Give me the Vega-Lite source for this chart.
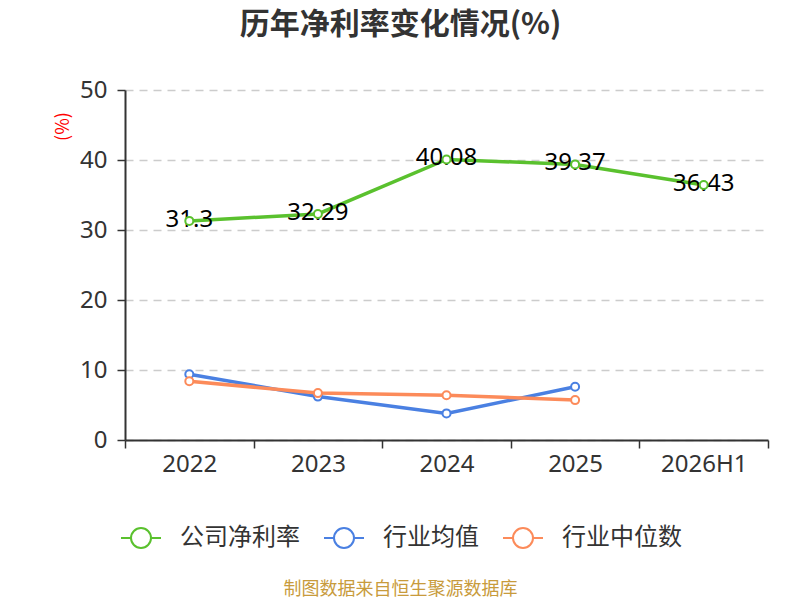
{
  "$schema": "https://vega.github.io/schema/vega-lite/v6.json",
  "width": 643,
  "height": 350,
  "autosize": "none",
  "padding": {"left": 125, "top": 90, "right": 32, "bottom": 160},
  "background": "white",
  "title": {
    "text": "历年净利率变化情况(%)",
    "font": "Noto Sans CJK SC",
    "fontSize": 30,
    "fontWeight": "bold",
    "color": "#333333",
    "anchor": "middle",
    "frame": "group",
    "dx": -46,
    "offset": 38
  },
  "config": {
    "view": {"stroke": null},
    "axis": {"labelFont": "Noto Sans", "titleFont": "Noto Sans CJK SC"}
  },
  "data": {
    "values": [
      {"year": "2022", "series": "公司净利率", "value": 31.3},
      {"year": "2023", "series": "公司净利率", "value": 32.29},
      {"year": "2024", "series": "公司净利率", "value": 40.08},
      {"year": "2025", "series": "公司净利率", "value": 39.37},
      {"year": "2026H1", "series": "公司净利率", "value": 36.43},
      {"year": "2022", "series": "行业均值", "value": 9.4},
      {"year": "2023", "series": "行业均值", "value": 6.2},
      {"year": "2024", "series": "行业均值", "value": 3.8},
      {"year": "2025", "series": "行业均值", "value": 7.6},
      {"year": "2022", "series": "行业中位数", "value": 8.4},
      {"year": "2023", "series": "行业中位数", "value": 6.7},
      {"year": "2024", "series": "行业中位数", "value": 6.4},
      {"year": "2025", "series": "行业中位数", "value": 5.7}
    ]
  },
  "encoding": {
    "x": {
      "field": "year",
      "type": "ordinal",
      "sort": ["2022", "2023", "2024", "2025", "2026H1"],
      "scale": {"domain": ["2022", "2023", "2024", "2025", "2026H1"], "paddingInner": 0, "paddingOuter": 0},
      "axis": {
        "title": "制图数据来自恒生聚源数据库",
        "titleColor": "#c89b3c",
        "titleFontSize": 18,
        "titleFontWeight": "normal",
        "titleX": 275,
        "titleY": 149,
        "titleAlign": "center",
        "titleBaseline": "middle",
        "labelAngle": 0,
        "labelFontSize": 24,
        "labelColor": "#333333",
        "labelPadding": 4,
        "tickBand": "extent",
        "tickSize": 8,
        "tickWidth": 1.5,
        "tickColor": "#333333",
        "domainColor": "#333333",
        "domainWidth": 2,
        "grid": false
      }
    },
    "y": {
      "field": "value",
      "type": "quantitative",
      "scale": {"domain": [0, 50]},
      "axis": {
        "title": "(%)",
        "titleColor": "#ff0000",
        "titleFontSize": 18,
        "titleFontWeight": "normal",
        "titleAngle": -90,
        "titleX": -62,
        "titleY": 36,
        "titleAlign": "center",
        "titleBaseline": "middle",
        "values": [0, 10, 20, 30, 40, 50],
        "labelFontSize": 24,
        "labelColor": "#333333",
        "labelPadding": 10,
        "tickSize": 8,
        "tickWidth": 1.5,
        "tickColor": "#333333",
        "domainColor": "#333333",
        "domainWidth": 2,
        "grid": true,
        "gridColor": "#cccccc",
        "gridDash": [8, 6],
        "gridWidth": 1.5
      }
    }
  },
  "layer": [
    {
      "mark": {"type": "line", "strokeWidth": 3.5},
      "encoding": {
        "color": {
          "field": "series",
          "type": "nominal",
          "scale": {
            "domain": ["公司净利率", "行业均值", "行业中位数"],
            "range": ["#5ac12e", "#4a80e2", "#fc8b5a"]
          },
          "legend": {
            "orient": "none",
            "direction": "horizontal",
            "legendX": -5,
            "legendY": 427,
            "title": null,
            "labelFont": "Noto Sans CJK SC",
            "labelFontSize": 24,
            "labelColor": "#333333",
            "labelOffset": 18,
            "columnPadding": 20,
            "symbolType": "M-1,0L-0.5,0M0.5,0L1,0M-0.5,0A0.5,0.5 0 1 1 0.5,0A0.5,0.5 0 1 1 -0.5,0Z",
            "symbolSize": 1600,
            "symbolStrokeWidth": 2,
            "symbolFillColor": "white",
            "encode": {"symbols": {"update": {"fill": {"value": "white"}, "fillOpacity": {"value": 1}}}}
          }
        }
      }
    },
    {
      "transform": [{"filter": "datum.series === '公司净利率'"}],
      "mark": {"type": "text", "font": "Noto Sans", "fontSize": 24, "baseline": "middle", "dy": -1, "color": "black"},
      "encoding": {
        "text": {"field": "value", "type": "quantitative"}
      }
    },
    {
      "mark": {"type": "point", "filled": true, "fill": "white", "strokeWidth": 2, "size": 64, "opacity": 1},
      "encoding": {
        "stroke": {"field": "series", "type": "nominal", "scale": {"domain": ["公司净利率", "行业均值", "行业中位数"], "range": ["#5ac12e", "#4a80e2", "#fc8b5a"]}, "legend": null}
      }
    }
  ]
}
